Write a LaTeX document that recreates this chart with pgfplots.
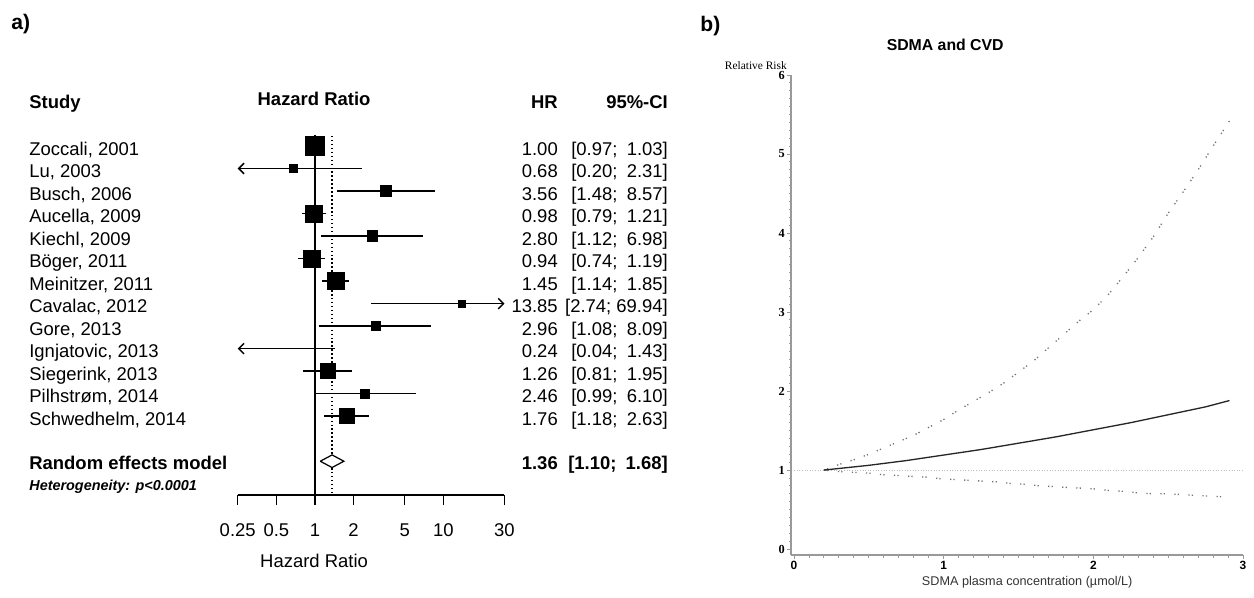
\documentclass[border=0pt]{standalone}
\usepackage{fontspec}
\setmainfont{Liberation Sans}
\newfontfamily\rrfont{Liberation Serif}
\usepackage{pgfplots}
\pgfplotsset{compat=1.18}
\usepackage{pgfplotstable}
\usetikzlibrary{arrows.meta}

% forest plot: row, HR, CI, half side of square (pt)
\pgfplotstableread{
r hr lo hi sz
1 1.00 0.97 1.03 5.4
2 0.68 0.20 2.31 2.3
3 3.56 1.48 8.57 3.1
4 0.98 0.79 1.21 4.8
5 2.80 1.12 6.98 3.1
6 0.94 0.74 1.19 4.8
7 1.45 1.14 1.85 4.9
8 13.85 2.74 69.94 2.0
9 2.96 1.08 8.09 2.6
10 0.24 0.04 1.43 0
11 1.26 0.81 1.95 4.3
12 2.46 0.99 6.10 2.6
13 1.76 1.18 2.63 4.3
}\studies

% CI segments that fit inside 0.25--30
\pgfplotstableread{
x y
0.97 -1
1.03 -1
nan nan
1.48 -3
8.57 -3
nan nan
0.79 -4
1.21 -4
nan nan
1.12 -5
6.98 -5
nan nan
0.74 -6
1.19 -6
nan nan
1.14 -7
1.85 -7
nan nan
1.08 -9
8.09 -9
nan nan
0.81 -11
1.95 -11
nan nan
0.99 -12
6.10 -12
nan nan
1.18 -13
2.63 -13
}\cisegs

% spline fit, SDMA and CVD
\pgfplotstableread{
x y
0.20 1.00
0.50 1.06
0.75 1.12
1.00 1.19
1.25 1.26
1.50 1.34
1.75 1.42
2.00 1.51
2.25 1.60
2.50 1.70
2.75 1.80
2.91 1.88
}\rrmid

\pgfplotstableread{
x y
0.20 1.00
0.30 1.07
0.40 1.13
0.50 1.20
0.60 1.28
0.70 1.36
0.80 1.44
0.90 1.54
1.00 1.64
1.10 1.76
1.20 1.87
1.30 1.98
1.40 2.10
1.50 2.24
1.60 2.38
1.75 2.63
1.90 2.88
2.00 3.03
2.10 3.22
2.20 3.45
2.30 3.69
2.40 3.95
2.50 4.25
2.60 4.52
2.70 4.80
2.80 5.10
2.91 5.42
}\rrup

\pgfplotstableread{
x y
0.20 1.00
0.31 0.98
0.41 0.97
0.51 0.96
0.60 0.94
0.70 0.93
0.79 0.92
0.89 0.91
0.98 0.89
1.07 0.88
1.17 0.87
1.26 0.86
1.36 0.85
1.45 0.83
1.55 0.82
1.64 0.80
1.74 0.79
1.83 0.78
1.93 0.77
2.02 0.76
2.11 0.74
2.21 0.73
2.30 0.71
2.40 0.70
2.49 0.70
2.59 0.69
2.68 0.68
2.78 0.67
2.87 0.66
}\rrlow

\newcommand\fs[1]{\fontsize{#1}{#1}\selectfont}
\newcommand\cigap{\hspace{0.5em}}

\begin{document}
\begin{tikzpicture}
\path[use as bounding box] (0,0) rectangle (25.08cm,11.94cm);

% ---- a) forest plot
\begin{axis}[
    at={(4.754cm,2.04cm)}, anchor=south west,
    scale only axis, width=5.336cm, height=7.43cm,
    xmode=log, xmin=0.25, xmax=30, ymin=-16.5, ymax=0,
    axis x line*=bottom, axis y line=none,
    axis line style={black, line width=0.85pt, -},
    xtick={0.25,0.5,1,2,5,10,30},
    xticklabels={0.25,0.5,1,2,5,10,30},
    minor xtick={},
    xtick align=outside, major tick length=0.2cm,
    tick style={black, line width=0.85pt},
    xticklabel style={font=\fs{10.5}, text height=7.6pt, text depth=0pt, yshift=-0.24cm},
    clip=false,
]
\addplot[black, line width=0.85pt] coordinates {(1,-0.5) (1,-16.5)};
\addplot[black, line width=0.85pt, dash pattern=on 0.85pt off 1.4pt] coordinates {(1.36,-0.55) (1.36,-16.5)};
\addplot[black, line width=0.85pt, unbounded coords=jump] table[x=x, y=y] {\cisegs};
\addplot[black, line width=0.85pt, -{Straight Barb[length=3pt,width=6pt]}] coordinates {(2.31,-2) (0.25,-2)};
\addplot[black, line width=0.85pt, -{Straight Barb[length=3pt,width=6pt]}] coordinates {(1.43,-10) (0.25,-10)};
\addplot[black, line width=0.85pt, -{Straight Barb[length=3pt,width=6pt]}] coordinates {(2.74,-8) (30,-8)};
\addplot[scatter, only marks, mark=square*,
    skip coords between index={9}{10},
    scatter/use mapped color={draw=black, fill=black},
    visualization depends on={\thisrow{sz} \as \msz},
    scatter/@pre marker code/.append style={/tikz/mark size=\msz}]
    table[x=hr, y expr=-\thisrow{r}] {\studies};
\addplot[white, line width=0.8pt] coordinates {(0.97,-1) (1.03,-1)};
\addplot[black, fill=white, line width=0.7pt] coordinates {(1.10,-15) (1.36,-14.72) (1.68,-15) (1.36,-15.28) (1.10,-15)};
\end{axis}

% ---- b) SDMA and CVD
\begin{axis}[
    at={(15.82cm,0.84cm)}, anchor=south west,
    scale only axis, width=9.04cm, height=9.6cm,
    xmin=-0.02, xmax=3, ymin=-0.075, ymax=6,
    axis x line*=bottom, axis y line*=left,
    axis line style={black!40, line width=0.6pt, -},
    xtick={0,1,2,3}, xticklabels={0,1,2,3},
    ytick={0,1,2,3,4,5,6}, yticklabels={0,1,2,3,4,5,6},
    minor x tick num=9, minor y tick num=9,
    tick align=outside, major tick length=0.08cm, minor tick length=0.05cm,
    tick style={black!40, line width=0.5pt},
    xticklabel style={font=\bfseries\fs{6.8}, inner sep=1pt},
    yticklabel style={font=\rrfont\bfseries\fs{7}, inner sep=1pt},
    clip=false,
]
\addplot[black!25, line width=0.5pt, dash pattern=on 0.5pt off 1pt] coordinates {(0,1) (3,1)};
\addplot[black!55, line width=0.75pt, dash pattern=on 0.7pt off 1.2pt on 0.7pt off 5.4pt] table[x=x, y=y] {\rrup};
\addplot[black!55, line width=0.75pt, dash pattern=on 0.7pt off 1.2pt on 0.7pt off 5.4pt] table[x=x, y=y] {\rrlow};
\addplot[black!85, line width=0.75pt] table[x=x, y=y] {\rrmid};
\end{axis}

% ---- text, in pixel units of the reference
\begin{scope}[x=0.02cm, y=-0.02cm, shift={(0cm,11.94cm)}]
\node[anchor=base west, inner sep=0, font=\bfseries\fs{12}] at (11,29) {a)};
\node[anchor=base west, inner sep=0, font=\bfseries\fs{10.5}] at (29,108) {Study};
\node[anchor=base, inner sep=0, font=\bfseries\fs{10.5}] at (314,105) {Hazard Ratio};
\node[anchor=base east, inner sep=0, font=\bfseries\fs{10.5}] at (558,108) {HR};
\node[anchor=base east, inner sep=0, font=\bfseries\fs{10.5}] at (668,108) {95\%-CI};
\foreach \r/\n/\h/\c in {
  1/{Zoccali, 2001}/1.00/{[0.97;\cigap1.03]},
  2/{Lu, 2003}/0.68/{[0.20;\cigap2.31]},
  3/{Busch, 2006}/3.56/{[1.48;\cigap8.57]},
  4/{Aucella, 2009}/0.98/{[0.79;\cigap1.21]},
  5/{Kiechl, 2009}/2.80/{[1.12;\cigap6.98]},
  6/{Böger, 2011}/0.94/{[0.74;\cigap1.19]},
  7/{Meinitzer, 2011}/1.45/{[1.14;\cigap1.85]},
  8/{Cavalac, 2012}/13.85/{[2.74; 69.94]},
  9/{Gore, 2013}/2.96/{[1.08;\cigap8.09]},
  10/{Ignjatovic, 2013}/0.24/{[0.04;\cigap1.43]},
  11/{Siegerink, 2013}/1.26/{[0.81;\cigap1.95]},
  12/{Pilhstrøm, 2014}/2.46/{[0.99;\cigap6.10]},
  13/{Schwedhelm, 2014}/1.76/{[1.18;\cigap2.63]}} {
  \node[anchor=base west, inner sep=0, font=\fs{10.5}] at (29,{155+(\r-1)*22.5}) {\n};
  \node[anchor=base east, inner sep=0, font=\fs{10.5}] at (558,{155+(\r-1)*22.5}) {\h};
  \node[anchor=base east, inner sep=0, font=\fs{10.5}] at (668,{155+(\r-1)*22.5}) {\c};
}
\node[anchor=base west, inner sep=0, font=\bfseries\fs{10.5}] at (29,469) {Random effects model};
\node[anchor=base east, inner sep=0, font=\bfseries\fs{10.5}] at (558,469) {1.36};
\node[anchor=base east, inner sep=0, font=\bfseries\fs{10.5}] at (668,469) {[1.10;\cigap1.68]};
\node[anchor=base west, inner sep=0, font=\bfseries\itshape\fs{8.2}] at (29,490) {Heterogeneity: p<0.0001};
\node[anchor=base, inner sep=0, font=\fs{10.5}] at (314,567) {Hazard Ratio};
% panel b
\node[anchor=base west, inner sep=0, font=\bfseries\fs{12}] at (700,31) {b)};
\node[anchor=base, inner sep=0, font=\bfseries\fs{9}] at (945,50) {SDMA and CVD};
\node[anchor=base east, inner sep=0, font=\rrfont\fs{6.5}] at (787,69) {Relative Risk};
\node[anchor=base, inner sep=0, text=black!80, font=\fs{7.2}] at (1027,585) {SDMA plasma concentration (µmol/L)};
\end{scope}
\end{tikzpicture}
\end{document}
